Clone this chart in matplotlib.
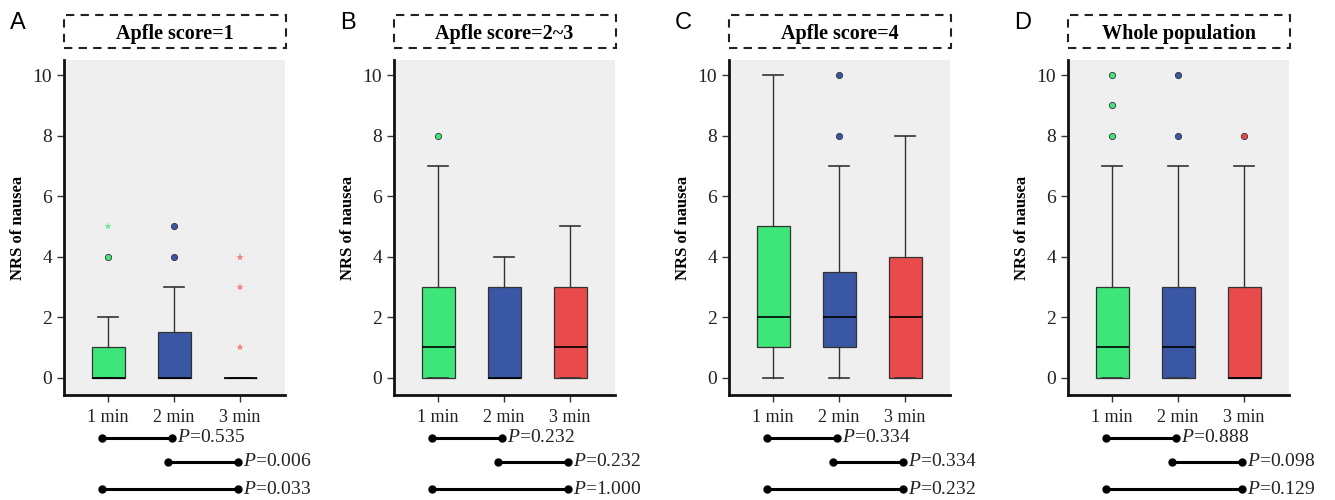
import matplotlib
matplotlib.use("Agg")
import matplotlib.pyplot as plt
from matplotlib.patches import Rectangle
import matplotlib.transforms as mtransforms

plt.rcParams['font.family'] = ['Liberation Serif', 'DejaVu Serif']
plt.rcParams['mathtext.fontset'] = 'custom'
plt.rcParams['mathtext.rm'] = 'Liberation Serif'
plt.rcParams['mathtext.it'] = 'Liberation Serif:italic'

# ---------------- data ----------------
categories = ["1 min", "2 min", "3 min"]
panel_letters = ["A", "B", "C", "D"]
panel_titles = ["Apfle score=1", "Apfle score=2~3", "Apfle score=4", "Whole population"]

# box statistics per panel: [whislo, q1, median, q3, whishi] for 1/2/3 min
stats_A = [[0, 0, 0, 1, 2], [0, 0, 0, 1.5, 3], [0, 0, 0, 0, 0]]
stats_B = [[0, 0, 1, 3, 7], [0, 0, 0, 3, 4], [0, 0, 1, 3, 5]]
stats_C = [[0, 1, 2, 5, 10], [0, 1, 2, 3.5, 7], [0, 0, 2, 4, 8]]
stats_D = [[0, 0, 1, 3, 7], [0, 0, 1, 3, 7], [0, 0, 0, 3, 7]]

# outliers (circles) and extreme values (stars)
outliers_A = [[4], [4, 5], []]
extremes_A = [[5], [], [1, 3, 4]]
outliers_B = [[8], [], []]
extremes_B = [[], [], []]
outliers_C = [[], [8, 10], []]
extremes_C = [[], [], []]
outliers_D = [[8, 9, 10], [8, 10], [8]]
extremes_D = [[], [], []]

p_values_A = ["0.535", "0.006", "0.033"]
p_values_B = ["0.232", "0.232", "1.000"]
p_values_C = ["0.334", "0.334", "0.232"]
p_values_D = ["0.888", "0.098", "0.129"]
comparisons = [(1, 2), (2, 3), (1, 3)]

yticks = [0, 2, 4, 6, 8, 10]
ylabel = "NRS of nausea"

# ---------------- style ----------------
box_colors = ["#3EE67A", "#3A57A6", "#E94A4C"]
star_colors = ["#7EE89A", "#7F93D0", "#F08A8A"]
bg = "#EFEFEF"
edge = "#333333"

fig = plt.figure(figsize=(13.35, 5), dpi=100)
W, H = 1335, 500
lefts = [64, 394, 729, 1068]
ax_w = 221
ax_top, ax_bot = 60, 395

panels = [
    (stats_A, outliers_A, extremes_A, p_values_A),
    (stats_B, outliers_B, extremes_B, p_values_B),
    (stats_C, outliers_C, extremes_C, p_values_C),
    (stats_D, outliers_D, extremes_D, p_values_D),
]

for k, (stats, outl, extr, pvals) in enumerate(panels):
    ax = fig.add_axes([lefts[k] / W, 1 - ax_bot / H, ax_w / W, (ax_bot - ax_top) / H])
    ax.set_facecolor(bg)
    bstats = []
    for s in stats:
        bstats.append(dict(whislo=s[0], q1=s[1], med=s[2], q3=s[3], whishi=s[4], fliers=[]))
    pos = [1, 2, 3]
    bp = ax.bxp(bstats, positions=pos, widths=0.5, patch_artist=True, showfliers=False,
                boxprops=dict(edgecolor=edge, linewidth=0.9),
                whiskerprops=dict(color=edge, linewidth=1.0),
                capprops=dict(color=edge, linewidth=1.2),
                medianprops=dict(color="black", linewidth=1.2),
                capwidths=0.3)
    for patch, c in zip(bp['boxes'], box_colors):
        patch.set_facecolor(c)
    for i in range(3):
        if outl[i]:
            ax.plot([pos[i]] * len(outl[i]), outl[i], 'o', ms=4.5, mfc=box_colors[i],
                    mec=edge, mew=0.6, zorder=5)
        if extr[i]:
            ax.plot([pos[i]] * len(extr[i]), extr[i], '*', ms=6, color=star_colors[i],
                    mew=0, zorder=5)

    ax.set_xlim(0.33, 3.68)
    ax.set_ylim(-0.57, 10.5)
    ax.set_yticks(yticks)
    ax.set_xticks(pos)
    ax.set_xticklabels(categories, fontsize=13)
    ax.tick_params(axis='y', labelsize=14, direction='out', length=5, width=1,
                   color='#333333', labelcolor='#222222')
    ax.tick_params(axis='x', direction='out', length=5, width=1, color='#333333', pad=5,
                   labelcolor='#222222')
    for sp in ['top', 'right']:
        ax.spines[sp].set_visible(False)
    for sp in ['left', 'bottom']:
        ax.spines[sp].set_linewidth(2)
        ax.spines[sp].set_color('#111111')
    ax.set_ylabel(ylabel, fontsize=12, fontweight='bold', labelpad=5)

    # dashed title box
    ax_h = ax_bot - ax_top
    y0 = 1 + 12 / ax_h
    y1 = 1 + 45 / ax_h
    rect = Rectangle((0, y0), 1.005, y1 - y0, transform=ax.transAxes, fill=False,
                     linestyle=(0, (4, 3)), linewidth=1.5, edgecolor='#222222', clip_on=False)
    ax.add_patch(rect)
    ax.text(0.5, (y0 + y1) / 2 - 2 / ax_h, panel_titles[k], transform=ax.transAxes,
            ha='center', va='center', fontsize=14.5, fontweight='bold')

    # panel letter
    fig.text((lefts[k] - 54) / W, 1 - 23 / H, panel_letters[k], fontsize=17,
             family='Liberation Sans', ha='left', va='center')

    # p-value comparison lines
    trans = mtransforms.blended_transform_factory(ax.transData, ax.transAxes)
    row_y = [-(438 - ax_bot) / ax_h, -(462 - ax_bot) / ax_h, -(489 - ax_bot) / ax_h]
    for (a, b), yy, pv in zip(comparisons, row_y, pvals):
        xa, xb = a - 0.09, b - 0.03
        ax.plot([xa, xb], [yy, yy], '-', color='black', lw=2.2, transform=trans,
                clip_on=False, solid_capstyle='butt')
        ax.plot([xa, xb], [yy, yy], 'o', color='black', ms=5, transform=trans, clip_on=False)
        ax.text(xb + 0.07, yy, r"$\mathit{P}$" + "=" + pv, transform=trans, ha='left',
                va='center', fontsize=14, color='#222222')

fig.savefig("out.png", dpi=100)
